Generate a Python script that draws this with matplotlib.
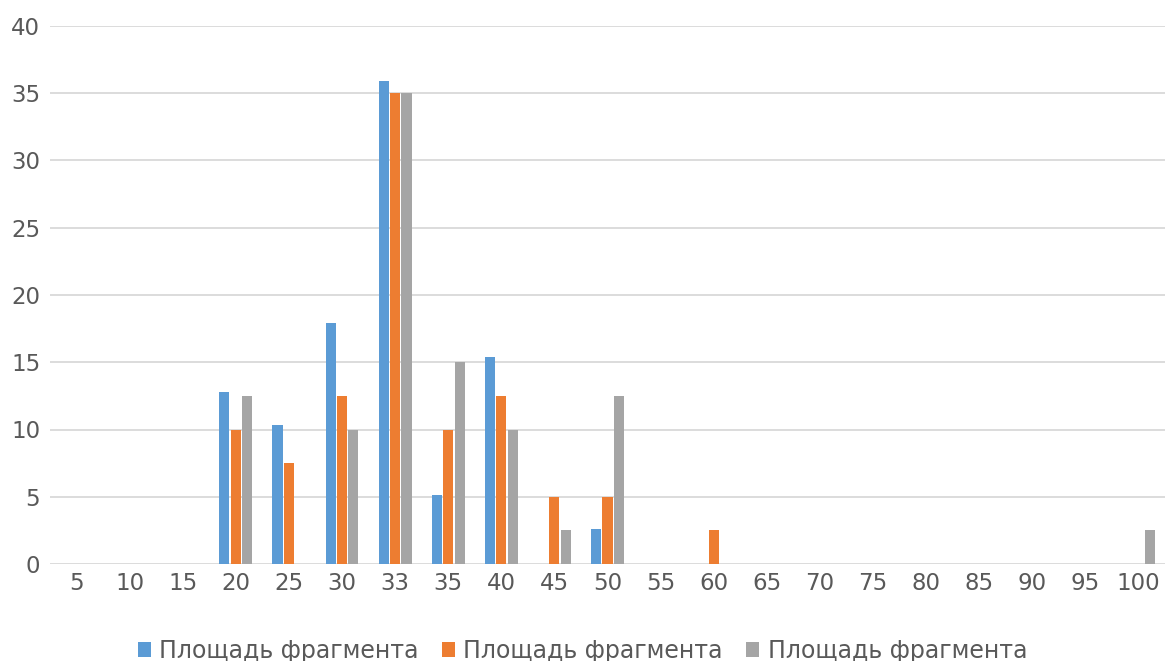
import numpy as np
import matplotlib.pyplot as plt

categories = ['5', '10', '15', '20', '25', '30', '33', '35', '40', '45', '50',
              '55', '60', '65', '70', '75', '80', '85', '90', '95', '100']
series_names = ['Площадь фрагмента', 'Площадь фрагмента', 'Площадь фрагмента']
series_1 = [0, 0, 0, 12.8, 10.3, 17.9, 35.9, 5.1, 15.4, 0, 2.6,
            0, 0, 0, 0, 0, 0, 0, 0, 0, 0]
series_2 = [0, 0, 0, 10, 7.5, 12.5, 35, 10, 12.5, 5, 5,
            0, 2.5, 0, 0, 0, 0, 0, 0, 0, 0]
series_3 = [0, 0, 0, 12.5, 0, 10, 35, 15, 10, 2.5, 12.5,
            0, 0, 0, 0, 0, 0, 0, 0, 0, 2.5]
colors = ['#5b9bd5', '#ed7d31', '#a5a5a5']

fig = plt.figure(figsize=(11.65, 6.61), dpi=100)
ax = fig.add_axes((50 / 1165, 97 / 661, 1115 / 1165, 538 / 661))

x = np.arange(len(categories))
bar_w = 0.19
step = 0.215
for i, vals in enumerate([series_1, series_2, series_3]):
    ax.bar(x + (i - 1) * step, vals, width=bar_w, color=colors[i],
           label=series_names[i], zorder=3)

ax.set_xlim(-0.5, len(categories) - 0.5)
ax.set_ylim(0, 40)
ax.set_yticks(range(0, 41, 5))
ax.set_xticks(x)
ax.set_xticklabels(categories)
ax.grid(axis='y', color='#d9d9d9', linewidth=1.3, zorder=0)
ax.tick_params(axis='both', length=0, labelsize=16.5, labelcolor='#595959')
ax.tick_params(axis='x', pad=6)
ax.tick_params(axis='y', pad=7)
for s in ax.spines.values():
    s.set_visible(False)

fig.legend(loc='lower center', bbox_to_anchor=(0.5, -0.035), ncol=3, frameon=False,
           fontsize=17, labelcolor='#595959', handlelength=0.55, handleheight=0.55,
           handletextpad=0.35, columnspacing=1.0)

fig.savefig('out.png', dpi=100)
